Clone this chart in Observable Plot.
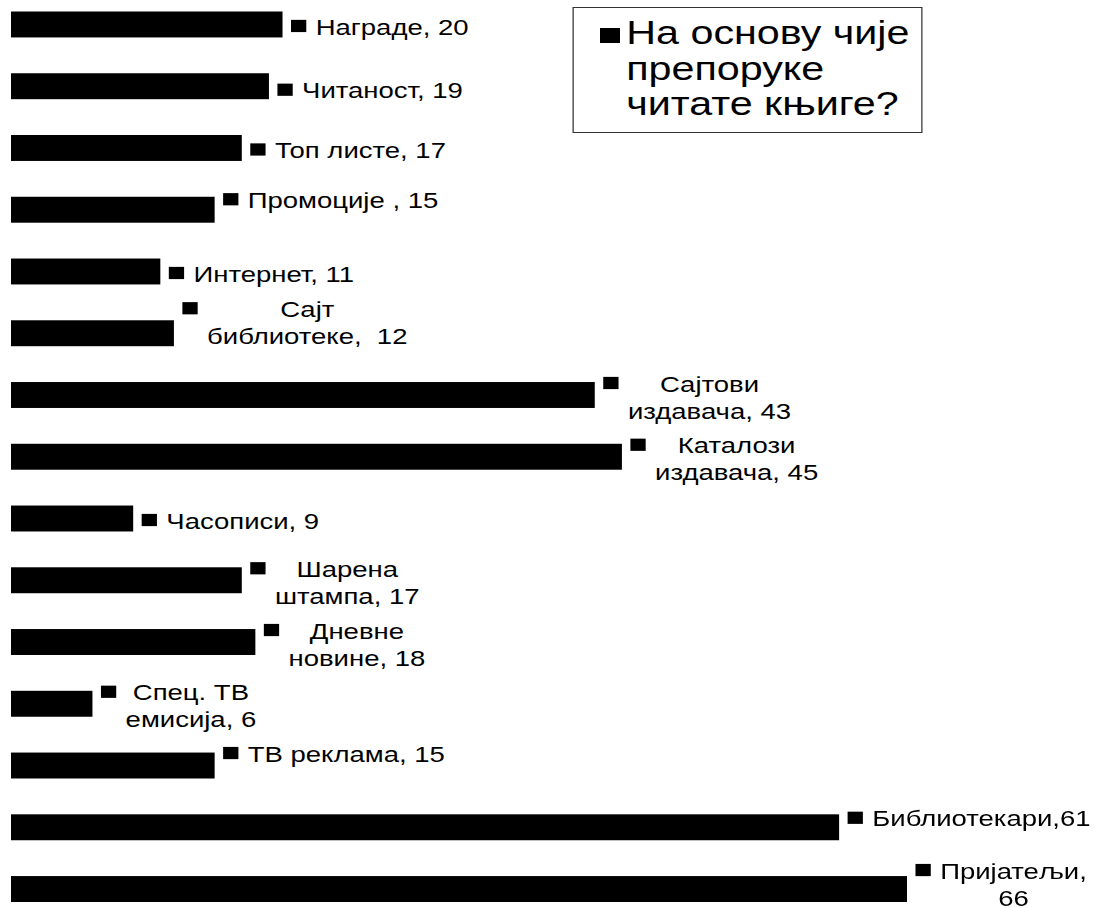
<!DOCTYPE html>
<html>
<head>
<meta charset="utf-8">
<script src="https://cdn.jsdelivr.net/npm/d3@7"></script>
<script src="https://cdn.jsdelivr.net/npm/@observablehq/plot@0.6"></script>
<style>
  html, body { margin: 0; padding: 0; background: #fff; }
  #wrap {
    position: relative; width: 875px; height: 908px;
    transform: scaleX(1.25); transform-origin: 0 0;
    font-family: "Liberation Sans", Arial, sans-serif; color: #000;
  }
  #chart svg { display: block; overflow: visible; }
  #legend {
    position: absolute; left: 458px; top: 7px; width: 280px; height: 126px;
    box-sizing: border-box; border: 1.5px solid #333; background: #fff;
  }
  #legend .key { position: absolute; left: 21px; top: 20px; width: 15.5px; height: 15px; background: #000; }
  #legend .lines { position: absolute; left: 42px; top: 7px; font-size: 33px; line-height: 35.5px; white-space: nowrap; }
</style>
</head>
<body>
<div id="wrap">
  <div id="chart"></div>
  <div id="legend"><div class="key"></div><div class="lines"></div></div>
</div>
<script>
// ---- data ----
const categories = ["Награде", "Читаност", "Топ листе", "Промоције", "Интернет", "Сајт библиотеке",
  "Сајтови издавача", "Каталози издавача", "Часописи", "Шарена штампа", "Дневне новине",
  "Спец. ТВ емисија", "ТВ реклама", "Библиотекари", "Пријатељи"];
const values = [20, 19, 17, 15, 11, 12, 43, 45, 9, 17, 18, 6, 15, 61, 66];
const labelLines = [
  ["Награде, 20"], ["Читаност, 19"], ["Топ листе, 17"], ["Промоције , 15"], ["Интернет, 11"],
  ["Сајт", "библиотеке,  12"], ["Сајтови", "издавача, 43"], ["Каталози", "издавача, 45"],
  ["Часописи, 9"], ["Шарена", "штампа, 17"], ["Дневне", "новине, 18"], ["Спец. ТВ", "емисија, 6"],
  ["ТВ реклама, 15"], ["Библиотекари,61"], ["Пријатељи,", "66"]
];
const titleLines = ["На основу чије", "препоруке", "читате књиге?"];

// ---- layout (label vertical nudges, px) ----
const labelNudge = {"Читаност": 3, "Промоције": -11, "Сајт библиотеке": -12, "ТВ реклама": -13, "Библиотекари": -10, "Пријатељи": -6};

const fs = 22, lh = 27;
const rows = categories.map((c, i) => ({category: c, value: values[i], lines: labelLines[i]}));
const ctx = document.createElement("canvas").getContext("2d");
ctx.font = `${fs}px "Liberation Sans"`;

const marks = [Plot.barX(rows, {x: "value", y: "category", fill: "#000"})];
for (const r of rows) {
  const nudge = labelNudge[r.category] ?? 1;
  const two = r.lines.length > 1;
  const blockW = Math.max(...r.lines.map(s => ctx.measureText(s).width));
  marks.push(Plot.dot([r], {x: "value", y: "category", symbol: "square", r: 6.9, fill: "#000",
    dx: 12.4, dy: nudge - (two ? lh / 2 : 0)}));
  marks.push(Plot.text([r], {x: "value", y: "category", text: d => d.lines.join("\n"),
    textAnchor: two ? "middle" : "start", dx: two ? 26 + blockW / 2 : 26, dy: nudge,
    lineHeight: lh / fs, fontSize: fs, fill: "#000"}));
}

const chart = Plot.plot({
  width: 875, height: 908, margin: 0,
  x: {domain: [0, 66], range: [8.8, 725.6], axis: null},
  y: {domain: categories, range: [11.5, 902], paddingInner: 0.58, paddingOuter: 0, round: false, axis: null},
  style: {fontFamily: '"Liberation Sans", Arial, sans-serif', fontSize: fs + "px", color: "#000", background: "#fff", overflow: "visible"},
  marks
});
document.getElementById("chart").appendChild(chart);
document.querySelector("#legend .lines").innerHTML = titleLines.join("<br>");
</script>
</body>
</html>
